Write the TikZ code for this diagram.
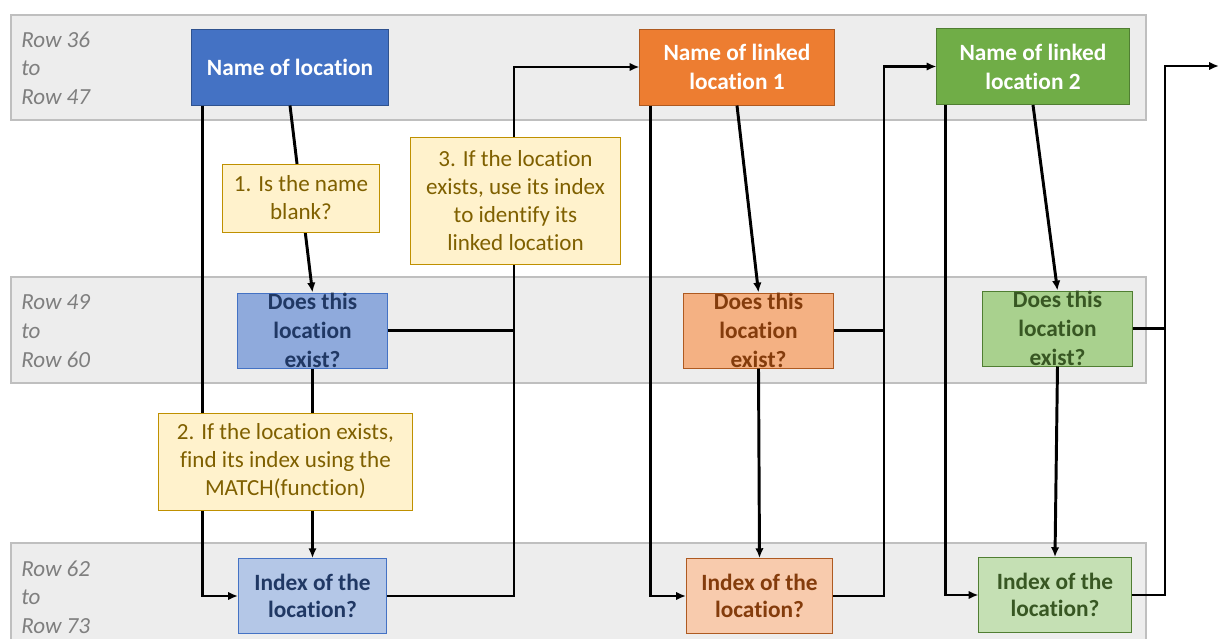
\documentclass[tikz,border=0pt]{standalone}
\usepackage{fontspec}
\setmainfont{Carlito}[Ligatures=NoCommon]
\usepackage{xcolor}
\usetikzlibrary{arrows.meta,positioning}

\definecolor{bandfill}{HTML}{EDEDED}
\definecolor{bandline}{HTML}{BFBFBF}
\definecolor{rowgrey}{HTML}{7F7F7F}
\definecolor{notefill}{HTML}{FFF2CC}
\definecolor{notebrd}{HTML}{BF9000}
\definecolor{notetxt}{HTML}{7F6000}
\definecolor{bluedark}{HTML}{4472C4}
\definecolor{bluebrd}{HTML}{2F528F}
\definecolor{bluemid}{HTML}{8FAADC}
\definecolor{bluelight}{HTML}{B4C7E7}
\definecolor{bluetxt}{HTML}{203864}
\definecolor{orgdark}{HTML}{ED7D31}
\definecolor{orgbrd}{HTML}{AE5A21}
\definecolor{orgmid}{HTML}{F4B183}
\definecolor{orglight}{HTML}{F8CBAD}
\definecolor{orgtxt}{HTML}{843C0C}
\definecolor{grndark}{HTML}{70AD47}
\definecolor{grnbrd}{HTML}{507E32}
\definecolor{grnmid}{HTML}{A9D18E}
\definecolor{grnlight}{HTML}{C5E0B4}
\definecolor{grntxt}{HTML}{385723}

\begin{document}
\begin{tikzpicture}[
    x=0.025cm, y=-0.025cm,
    font=\fontsize{16.4}{20.6}\selectfont,
    >=Latex,
    band/.style={draw=bandline, fill=bandfill, line width=0.8pt},
    rowlbl/.style={anchor=west, align=left, inner sep=0pt, text=rowgrey, font=\fontsize{16.4}{20.4}\selectfont\itshape},
    block/.style={draw, line width=0.7pt, inner sep=0pt},
    namebox/.style={block, minimum width=4.85cm, minimum height=1.9cm, align=center, text=white, font=\fontsize{16.6}{20.6}\selectfont\bfseries},
    askbox/.style={block, minimum width=3.75cm, minimum height=1.875cm},
    idxbox/.style={block, minimum width=3.7cm, minimum height=1.87cm, align=center, font=\fontsize{16.6}{19.4}\selectfont\bfseries},
    asktxt/.style={align=center, inner sep=0pt, font=\fontsize{16.6}{20.6}\selectfont\bfseries},
    note/.style={draw=notebrd, fill=notefill, text=notetxt, line width=0.7pt, align=center, inner sep=0pt, font=\fontsize{16.4}{19.9}\selectfont},
    wire/.style={line width=2.1pt},
    line/.style={-{Latex[length=7pt,width=6pt]}, line width=2.1pt}
]
\useasboundingbox (0,0) rectangle (1219,639);

% row bands
\draw[band] (11,15) rectangle (1146,120);
\draw[band] (11,277) rectangle (1146,383);
\draw[band] (11,543) rectangle (1146,660);
\node[rowlbl] (r1) at (21,68) {Row 36\\to\\Row 47};
\node[rowlbl] (r2) at (21,331) {Row 49\\to\\Row 60};
\node[rowlbl] (r3) at (21,597) {Row 62\\to\\Row 73};

% blue column
\node[namebox, fill=bluedark, draw=bluebrd, minimum width=4.9cm] (name1) at (290,67) {Name of location};
\node[askbox, fill=bluemid, draw=bluedark] (exist1) at (312.5,330.5) {};
\node[asktxt, text=bluetxt] (exist1t) at (exist1) {Does this\\location\\exist?};
\node[idxbox, fill=bluelight, draw=bluedark, text=bluetxt] (index1) at (312.5,596) {Index of the\\location?};

% orange column
\node[namebox, fill=orgdark, draw=orgbrd] (name2) at (737,67) {Name of linked\\location 1};
\node[askbox, fill=orgmid, draw=orgbrd, minimum width=3.725cm] (exist2) at (758.5,330.5) {};
\node[asktxt, text=orgtxt] (exist2t) at (exist2) {Does this\\location\\exist?};
\node[idxbox, fill=orglight, draw=orgbrd, text=orgtxt, minimum width=3.65cm] (index2) at (759.5,596) {Index of the\\location?};

% green column
\node[namebox, fill=grndark, draw=grnbrd, minimum width=4.8cm] (name3) at (1033,66.5) {Name of linked\\location 2};
\node[askbox, fill=grnmid, draw=grnbrd] (exist3) at (1057.5,328.5) {};
\node[asktxt, text=grntxt] (exist3t) at (exist3) {Does this\\location\\exist?};
\node[idxbox, fill=grnlight, draw=grnbrd, text=grntxt, minimum width=3.8cm] (index3) at (1055,595) {Index of the\\location?};

% junctions
\coordinate (j1) at (514,67);
\coordinate (j2) at (884,66.5);
\coordinate (j3) at (1165,66);
\coordinate (out) at (1219,66);

% connectors
\draw[line] (name1.south) -- (exist1.north);
\draw[line] (exist1.south) -- (index1.north);
\draw[line] (name1.south west) ++(11,0) |- (index1.west);
\draw[wire] (exist1.east) -- (exist1.east -| j1);
\draw[line] (index1.east) -| (j1) -- (name2.west);

\draw[line] (name2.south) -- (exist2.north);
\draw[line] (exist2.south) -- (index2.north);
\draw[line] (name2.south west) ++(11,0) |- (index2.west);
\draw[wire] (exist2.east) -- (exist2.east -| j2);
\draw[line] (index2.east) -| (j2) -- (name3.west);

\draw[line] (name3.south) -- (exist3.north);
\draw[line] (exist3.south) -- (index3.north);
\draw[line] (name3.south west) ++(9,0) |- (index3.west);
\draw[wire] (exist3.east) -- (exist3.east -| j3);
\draw[line] (index3.east) -| (j3) -- (out);

% notes
\node[note, minimum width=3.9cm, minimum height=1.7cm] (step1) at (301,198) {1. Is the name\\blank?};
\node[note, minimum width=6.325cm, minimum height=2.425cm] (step2) at (285.5,461.5) {2. If the location exists,\\find its index using the\\MATCH(function)};
\node[note, minimum width=5.225cm, minimum height=3.15cm] (step3) at (515.5,201) {3. If the location\\exists, use its index\\to identify its\\linked location};
\end{tikzpicture}
\end{document}
